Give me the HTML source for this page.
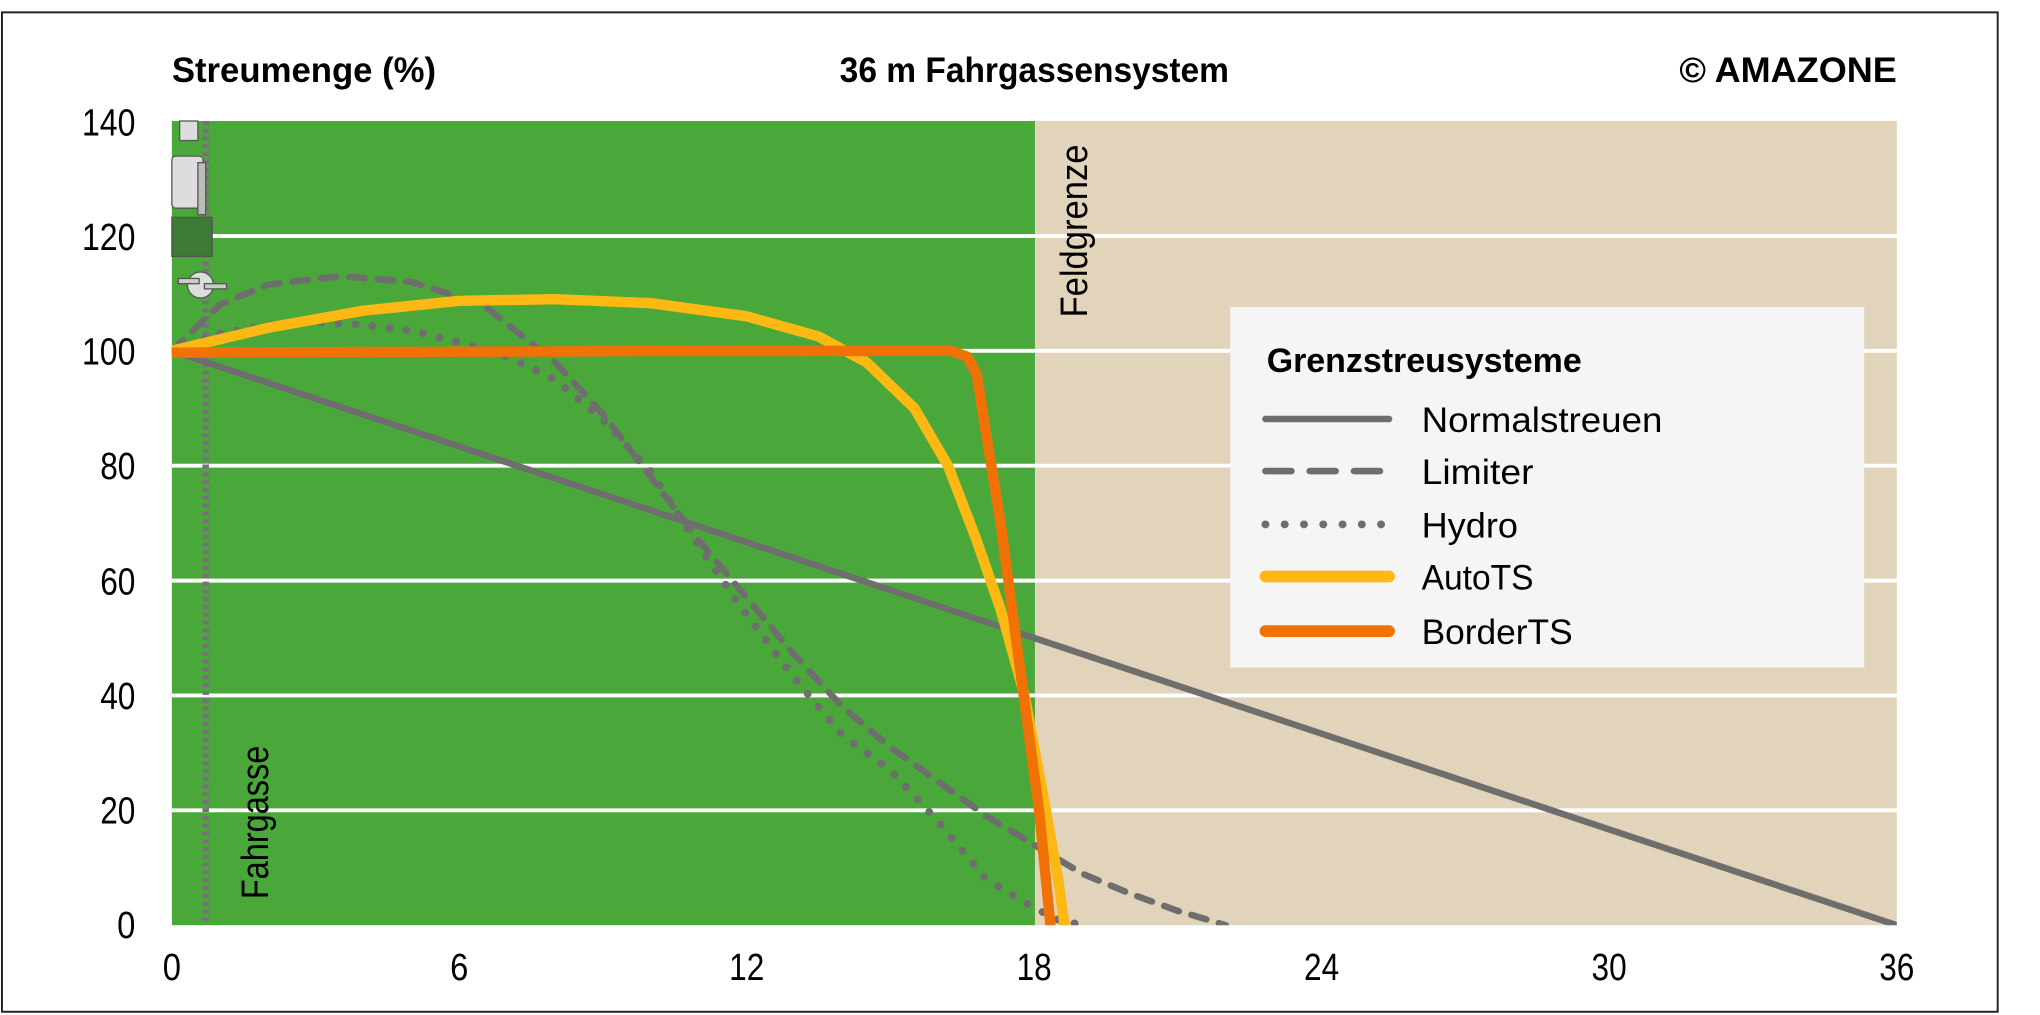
<!DOCTYPE html>
<html><head><meta charset="utf-8"><style>
html,body{margin:0;padding:0;background:#fff;}
svg{display:block;}
text{font-family:"Liberation Sans Narrow","Liberation Sans",sans-serif;fill:#000;}
</style></head><body>
<svg width="2040" height="1015" viewBox="0 0 1567 780" preserveAspectRatio="none" xmlns="http://www.w3.org/2000/svg">
<defs><clipPath id="pc"><rect x="132" y="93" width="1325" height="618"/></clipPath></defs>
<rect x="0" y="0" width="1567" height="780" fill="#fff"/>
<rect x="1.5" y="9.5" width="1533" height="768" fill="none" stroke="#222" stroke-width="1.5"/>
<rect x="132" y="93" width="663" height="618" fill="#4aa83a"/>
<rect x="795" y="93" width="662" height="618" fill="#e2d4ba"/>
<g stroke="#fff" stroke-width="3">
<line x1="132" y1="181.4" x2="1457" y2="181.4"/>
<line x1="132" y1="269.6" x2="1457" y2="269.6"/>
<line x1="132" y1="357.9" x2="1457" y2="357.9"/>
<line x1="132" y1="446.2" x2="1457" y2="446.2"/>
<line x1="132" y1="534.4" x2="1457" y2="534.4"/>
<line x1="132" y1="622.7" x2="1457" y2="622.7"/>
</g>
<line x1="158" y1="93" x2="158" y2="711" stroke="#77707a" stroke-width="5" stroke-dasharray="3 3"/>
<g stroke="#555" stroke-width="1">
<rect x="138" y="93" width="14" height="15" fill="#ddd"/>
<rect x="132" y="120" width="24" height="40" rx="3" fill="#ddd"/>
<rect x="152" y="125" width="6" height="40" fill="#bbb"/>
<rect x="132" y="167" width="31" height="30" fill="#3c7a35"/>
<circle cx="154" cy="219" r="10" fill="#ddd"/>
<rect x="137" y="214" width="16" height="4" fill="#ccc"/>
<rect x="157" y="218" width="17" height="4" fill="#ccc"/>
</g>
<g clip-path="url(#pc)" fill="none" stroke-linecap="round" stroke-linejoin="round">
<line x1="132" y1="269.6" x2="1457" y2="711" stroke="#6e6e6e" stroke-width="5"/>
<polyline stroke="#6e6e6e" stroke-width="5" stroke-dasharray="12 10" points="132,269.6 168.8,234.3 205.6,218.8 260.8,212.2 316,216.6 371.2,234.3 426.4,278.4 463.2,318.2 500,366.7 536.8,415.3 573.6,459.4 610.4,503.5 647.2,543.3 684,574.2 720.8,600.6 757.6,627.1 794.4,649.2 831.2,671.3 868,686.7 904.8,700 941.6,711"/>
<polyline stroke="#6e6e6e" stroke-width="6" stroke-dasharray="0.1 13" points="132,269.6 168.8,256.4 205.6,249.7 242.4,247.5 279.2,249.7 316,254.1 352.8,263 389.6,274 426.4,291.7 463.2,322.6 500,362.3 536.8,419.7 573.6,472.6 610.4,521.2 647.2,565.3 684,591.8 720.8,631.5 757.6,675.7 794.4,697.8 812.8,706.6 831.2,711"/>
<polyline stroke="#fdb813" stroke-width="8" points="132,269.6 205.6,252 279.2,238.7 352.8,231.2 426.4,229.9 500,233 573.6,243.1 628.8,258.6 665.6,278.4 702.4,313.7 728.2,357.9 750.2,415.3 768.6,468.2 787,534.4 801.8,613.9 812.8,675.7 818.3,715"/>
<polyline stroke="#f07206" stroke-width="8" points="132,271 500,269.8 730,269.6 742.9,274 750.2,287.3 755.8,322.6 768.6,402 783.4,512.4 798.1,622.7 807.3,715"/>
</g>
<rect x="945" y="236" width="487" height="277" fill="#f5f5f5"/>
<text x="973" y="286" font-size="26" font-weight="bold" textLength="242" lengthAdjust="spacingAndGlyphs">Grenzstreusysteme</text>
<g stroke-linecap="round" fill="none">
<line x1="972" y1="322" x2="1067" y2="322" stroke="#6e6e6e" stroke-width="5"/>
<line x1="972" y1="362" x2="1067" y2="362" stroke="#6e6e6e" stroke-width="5" stroke-dasharray="20 14"/>
<line x1="972" y1="403" x2="1067" y2="403" stroke="#6e6e6e" stroke-width="6" stroke-dasharray="0.1 14.7"/>
<line x1="972" y1="443" x2="1067" y2="443" stroke="#fdb813" stroke-width="9"/>
<line x1="972" y1="485" x2="1067" y2="485" stroke="#f07206" stroke-width="9"/>
</g>
<g font-size="27">
<text x="1092" y="332" textLength="185" lengthAdjust="spacingAndGlyphs">Normalstreuen</text>
<text x="1092" y="372" textLength="86" lengthAdjust="spacingAndGlyphs">Limiter</text>
<text x="1092" y="413" textLength="74" lengthAdjust="spacingAndGlyphs">Hydro</text>
<text x="1092" y="453" textLength="86" lengthAdjust="spacingAndGlyphs">AutoTS</text>
<text x="1092" y="495" textLength="116" lengthAdjust="spacingAndGlyphs">BorderTS</text>
</g>
<text x="132" y="63" font-size="27" font-weight="bold" textLength="203" lengthAdjust="spacingAndGlyphs">Streumenge (%)</text>
<text x="645" y="63" font-size="27" font-weight="bold" textLength="299" lengthAdjust="spacingAndGlyphs">36 m Fahrgassensystem</text>
<text x="1290" y="63" font-size="27" font-weight="bold" textLength="167" lengthAdjust="spacingAndGlyphs">© AMAZONE</text>
<text transform="translate(206,691) rotate(-90)" font-size="29" textLength="118" lengthAdjust="spacingAndGlyphs">Fahrgasse</text>
<text transform="translate(835,244) rotate(-90)" font-size="29" textLength="133" lengthAdjust="spacingAndGlyphs">Feldgrenze</text>
<g font-size="29" text-anchor="end">
<text x="104" y="104" textLength="41" lengthAdjust="spacingAndGlyphs">140</text>
<text x="104" y="192" textLength="41" lengthAdjust="spacingAndGlyphs">120</text>
<text x="104" y="280" textLength="41" lengthAdjust="spacingAndGlyphs">100</text>
<text x="104" y="368" textLength="27" lengthAdjust="spacingAndGlyphs">80</text>
<text x="104" y="457" textLength="27" lengthAdjust="spacingAndGlyphs">60</text>
<text x="104" y="545" textLength="27" lengthAdjust="spacingAndGlyphs">40</text>
<text x="104" y="633" textLength="27" lengthAdjust="spacingAndGlyphs">20</text>
<text x="104" y="721" textLength="14" lengthAdjust="spacingAndGlyphs">0</text>
</g>
<g font-size="29" text-anchor="middle">
<text x="132" y="753" textLength="14" lengthAdjust="spacingAndGlyphs">0</text>
<text x="352.8" y="753" textLength="14" lengthAdjust="spacingAndGlyphs">6</text>
<text x="573.6" y="753" textLength="27" lengthAdjust="spacingAndGlyphs">12</text>
<text x="794.4" y="753" textLength="27" lengthAdjust="spacingAndGlyphs">18</text>
<text x="1015.2" y="753" textLength="27" lengthAdjust="spacingAndGlyphs">24</text>
<text x="1236" y="753" textLength="27" lengthAdjust="spacingAndGlyphs">30</text>
<text x="1457" y="753" textLength="27" lengthAdjust="spacingAndGlyphs">36</text>
</g>
</svg>
</body></html>
